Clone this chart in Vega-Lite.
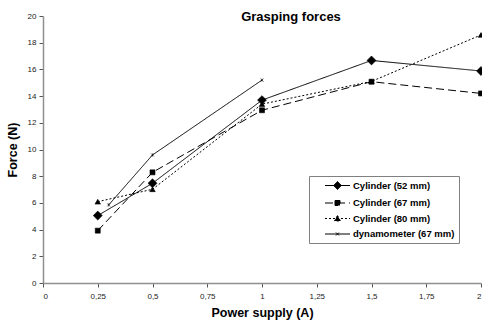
{
  "$schema": "https://vega.github.io/schema/vega-lite/v6.json",
  "width": 438,
  "height": 267,
  "autosize": {"type": "none"},
  "padding": {"left": 43, "top": 16, "right": 1, "bottom": 39},
  "background": "white",
  "config": {
    "view": {"stroke": null},
    "font": "Liberation Sans"
  },
  "title": {
    "text": "Grasping forces",
    "font": "Liberation Sans",
    "fontSize": 13,
    "fontWeight": "bold",
    "color": "black",
    "anchor": "middle",
    "dx": 29,
    "offset": -12
  },
  "data": {
    "values": [
      {"series": "Cylinder (52 mm)", "x": 0.25, "y": 5.05},
      {"series": "Cylinder (52 mm)", "x": 0.5, "y": 7.47},
      {"series": "Cylinder (52 mm)", "x": 1, "y": 13.7},
      {"series": "Cylinder (52 mm)", "x": 1.5, "y": 16.67},
      {"series": "Cylinder (52 mm)", "x": 2, "y": 15.88},
      {"series": "Cylinder (67 mm)", "x": 0.25, "y": 3.92},
      {"series": "Cylinder (67 mm)", "x": 0.5, "y": 8.29},
      {"series": "Cylinder (67 mm)", "x": 1, "y": 12.94},
      {"series": "Cylinder (67 mm)", "x": 1.5, "y": 15.08},
      {"series": "Cylinder (67 mm)", "x": 2, "y": 14.2},
      {"series": "Cylinder (80 mm)", "x": 0.25, "y": 6.09},
      {"series": "Cylinder (80 mm)", "x": 0.5, "y": 7.02},
      {"series": "Cylinder (80 mm)", "x": 1, "y": 13.4},
      {"series": "Cylinder (80 mm)", "x": 1.5, "y": 15.1},
      {"series": "Cylinder (80 mm)", "x": 2, "y": 18.58},
      {"series": "dynamometer (67 mm)", "x": 0.3, "y": 5.85},
      {"series": "dynamometer (67 mm)", "x": 0.5, "y": 9.59},
      {"series": "dynamometer (67 mm)", "x": 1, "y": 15.2}
    ]
  },
  "encoding": {
    "x": {
      "field": "x",
      "type": "quantitative",
      "scale": {"domain": [0, 2], "nice": false, "zero": false},
      "axis": {
        "title": "Power supply (A)",
        "values": [0, 0.25, 0.5, 0.75, 1, 1.25, 1.5, 1.75, 2],
        "labelExpr": "replace(format(datum.value, '~g'), '.', ',')",
        "grid": false,
        "domainColor": "#909090",
        "domainWidth": 1.5,
        "tickColor": "#555555",
        "tickSize": 4,
        "labelFontSize": 8,
        "labelColor": "#222222",
        "labelPadding": 5,
        "labelFont": "Liberation Sans",
        "titleFont": "Liberation Sans",
        "titleFontSize": 12.5,
        "titleFontWeight": "bold",
        "titleColor": "black",
        "titlePadding": 6
      }
    },
    "y": {
      "field": "y",
      "type": "quantitative",
      "scale": {"domain": [0, 20], "nice": false},
      "axis": {
        "title": "Force (N)",
        "values": [0, 2, 4, 6, 8, 10, 12, 14, 16, 18, 20],
        "grid": false,
        "domainColor": "#909090",
        "domainWidth": 1.5,
        "tickColor": "#555555",
        "tickSize": 4,
        "labelFontSize": 8,
        "labelColor": "#222222",
        "labelPadding": 3,
        "labelFont": "Liberation Sans",
        "titleFont": "Liberation Sans",
        "titleFontSize": 12.5,
        "titleFontWeight": "bold",
        "titleColor": "black",
        "titlePadding": 8
      }
    }
  },
  "resolve": {
    "scale": {"shape": "independent", "size": "independent", "strokeDash": "independent"},
    "legend": {"shape": "independent", "size": "independent", "strokeDash": "independent"}
  },
  "layer": [
    {
      "mark": {"type": "line", "strokeWidth": 1, "color": "black"},
      "encoding": {
        "strokeDash": {
          "field": "series",
          "type": "nominal",
          "scale": {
            "domain": ["Cylinder (52 mm)", "Cylinder (67 mm)", "Cylinder (80 mm)", "dynamometer (67 mm)"],
            "range": [[1, 0], [8, 4], [2, 2], [1, 0]]
          },
          "legend": {
            "title": null,
            "orient": "none",
            "legendX": 266,
            "legendY": 160,
            "strokeColor": "#808080",
            "fillColor": "white",
            "padding": 4,
            "rowPadding": 5.5,
            "symbolSize": 100,
            "symbolOffset": 19,
            "labelOffset": 10,
            "labelFont": "Liberation Sans",
            "labelFontSize": 9.5,
            "labelFontWeight": "bold",
            "labelColor": "black",
            "symbolStrokeWidth": 1,
            "symbolStrokeColor": "black",
            "symbolFillColor": "black",
            "encode": {
              "legend": {
                "update": {
                  "width": {"value": 156}
                }
              },
              "symbols": {
                "update": {
                  "shape": {"signal": "datum.value === 'Cylinder (52 mm)' ? 'M-2.5,0H2.5M0,-0.8L0.8,0L0,0.8L-0.8,0Z' : datum.value === 'Cylinder (67 mm)' ? 'M-2.5,0H2.5M-0.5,-0.5H0.5V0.5H-0.5Z' : datum.value === 'Cylinder (80 mm)' ? 'M-2.5,0H2.5M0,-0.6L0.6,0.5H-0.6Z' : 'M-2.5,0H2.5M-0.3,-0.3L0.3,0.3M-0.3,0.3L0.3,-0.3'"},
                  "fill": {"value": "black"},
                  "stroke": {"value": "black"}
                }
              }
            }
          }
        }
      }
    },
    {
      "mark": {"type": "point", "filled": true, "color": "black", "opacity": 1, "strokeWidth": 0.6},
      "encoding": {
        "shape": {
          "field": "series",
          "type": "nominal",
          "scale": {
            "range": ["diamond", "square", "triangle-up", "M-1,-1L1,1M-1,1L1,-1M0,-1L0,1"]
          },
          "legend": null
        },
        "size": {
          "field": "series",
          "type": "nominal",
          "scale": {
            "type": "ordinal",
            "range": [80, 25, 30, 9]
          },
          "legend": null
        },
        "stroke": {"value": "black"}
      }
    }
  ]
}
